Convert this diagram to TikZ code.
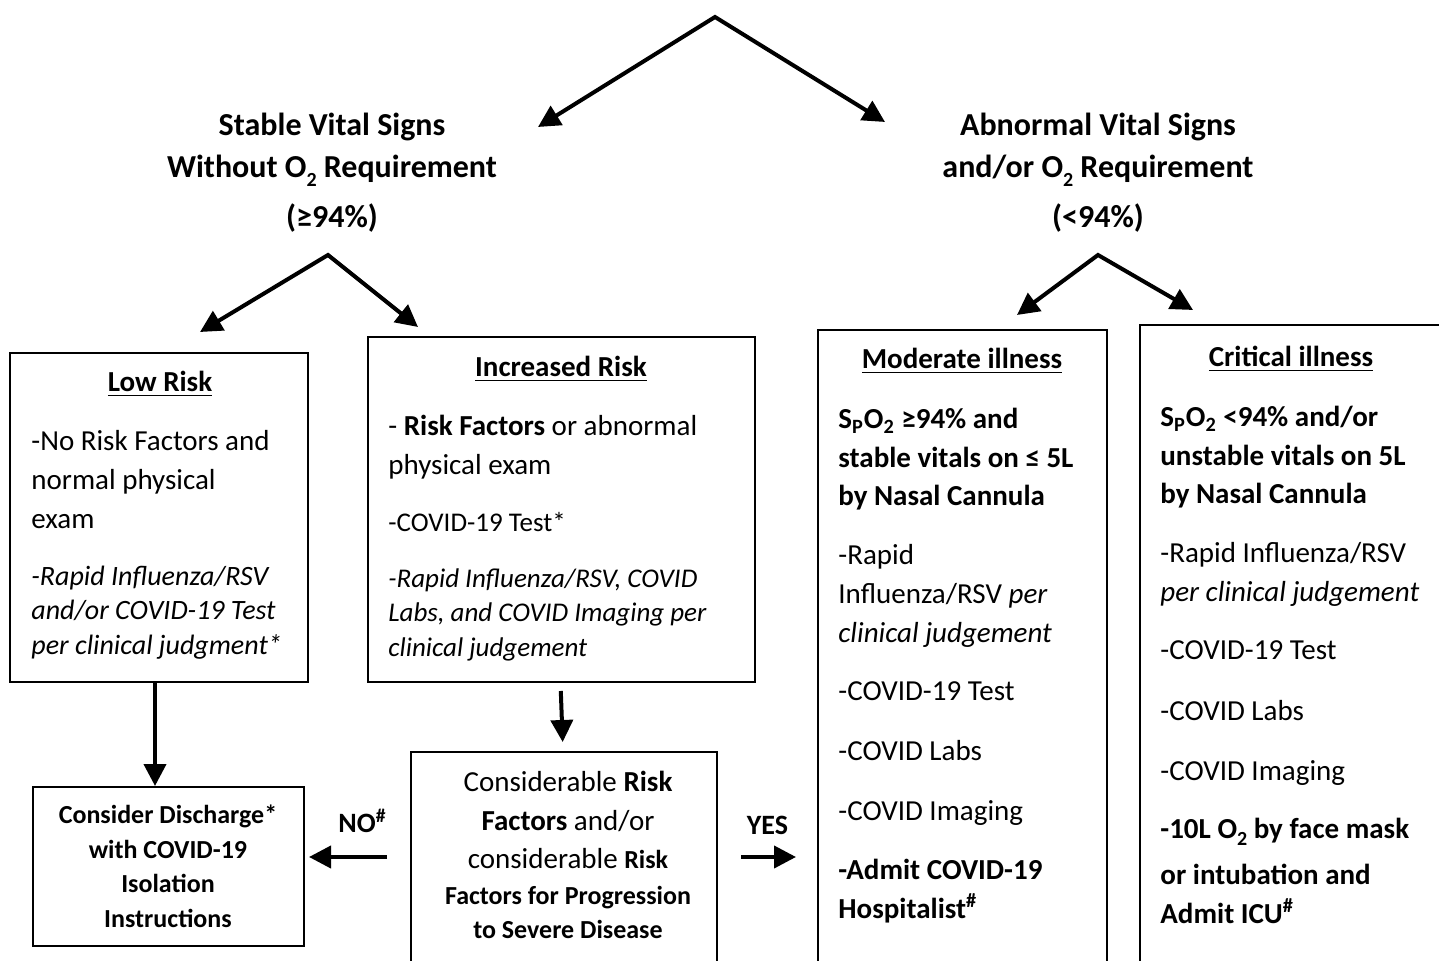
\documentclass[tikz,border=0pt]{standalone}
\usepackage{fontspec}
\setmainfont{Carlito}
\usetikzlibrary{arrows.meta}
\newcommand{\lowtwo}{\raisebox{-0.55ex}{\fontsize{10}{10}\selectfont 2}}

\begin{document}
\begin{tikzpicture}[x=0.5pt, y=-0.5pt,
    every node/.style={inner sep=0pt},
    box/.style={draw, line width=1pt, inner sep=0pt},
    arr/.style={line width=2pt, line join=miter, -{Triangle[length=11pt,width=11pt]}},
    twoarr/.style={line width=2pt, line join=miter, {Triangle[length=11pt,width=11pt]}-{Triangle[length=11pt,width=11pt]}},
    hdr/.style={font=\fontsize{16}{21}\selectfont\bfseries, align=center, anchor=base},
    boxtitle/.style={font=\fontsize{14.5}{18}\selectfont\bfseries, anchor=base},
    bodytxt/.style={font=\fontsize{14.5}{19.5}\selectfont, align=left, anchor=base west},
    boldtxt/.style={font=\fontsize{14.5}{19.25}\selectfont\bfseries, align=left, anchor=base west},
    notetxt/.style={font=\fontsize{13.5}{17.25}\selectfont\itshape, align=left, anchor=base west},
    smallbold/.style={font=\fontsize{13}{17.25}\selectfont\bfseries, align=center, anchor=base}
]
\useasboundingbox (0,0) rectangle (1439,961);
\clip (0,0) rectangle (1439,961);

% headings and forks (multi-line nodes sit on their last line)
\node[hdr] (stable) at (332,228) {Stable Vital Signs\\Without O\lowtwo{} Requirement\\[4pt](≥94\%)};
\node[hdr] (abnormal) at (1098,228) {Abnormal Vital Signs\\and/or O\lowtwo{} Requirement\\[4pt](<94\%)};
\coordinate (top) at (715,17);
\coordinate (stabletip) at (538,127);
\coordinate (abntip) at (885,122);
\draw[twoarr] (stabletip) -- (top) -- (abntip);
\coordinate (stablefork) at (328,255);
\coordinate (lowtip) at (200,332);
\coordinate (inctip) at (418,327);
\draw[twoarr] (lowtip) -- (stablefork) -- (inctip);
\coordinate (abnfork) at (1098,255);
\coordinate (modtip) at (1017,315);
\coordinate (crittip) at (1193,310);
\draw[twoarr] (modtip) -- (abnfork) -- (crittip);

% boxes
\node[box, minimum width=149pt, minimum height=164.5pt] (low) at (159,517.5) {};
\node[box, minimum width=193.5pt, minimum height=172.5pt] (inc) at (561.5,509.5) {};
\node[box, minimum width=144.5pt, minimum height=330pt] (mod) at (962.5,660) {};
\node[box, minimum width=160pt, minimum height=332.5pt] (crit) at (1300,657.5) {};
\node[box, minimum width=135.5pt, minimum height=79.5pt] (disc) at (168.5,866.5) {};
\node[box, minimum width=153pt, minimum height=119pt] (cons) at (564,871) {};

% low risk
\node[boxtitle] (lowt) at (160,392) {\underline{Low Risk}};
\node[bodytxt] (lowa) at (31,529) {-No Risk Factors and\\normal physical\\exam};
\node[notetxt, font=\fontsize{14}{17.25}\selectfont\itshape] (lowb) at (31,654) {-Rapid Influenza/RSV\\and/or COVID-19 Test\\per clinical judgment*};

% increased risk
\node[boxtitle] (inct) at (561,377) {\underline{Increased Risk}};
\node[bodytxt] (inca) at (388,475) {- \textbf{Risk Factors} or abnormal\\physical exam};
\node[bodytxt, font=\fontsize{13.5}{18}\selectfont] (incb) at (388,532) {-COVID-19 Test*};
\node[notetxt] (incc) at (388,656) {-Rapid Influenza/RSV, COVID\\Labs, and COVID Imaging per\\clinical judgement};

% moderate illness
\node[boxtitle] (modt) at (962,369) {\underline{Moderate illness}};
\node[boldtxt] (moda) at (838,506) {S\textsubscript{P}O\textsubscript{2} ≥94\% and\\stable vitals on ≤ 5L\\by Nasal Cannula};
\node[bodytxt] (modb) at (838,642) {-Rapid\\Influenza/RSV \textit{per}\\\textit{clinical judgement}};
\foreach \txt [count=\i] in {-COVID-19 Test, -COVID Labs, -COVID Imaging}
    \node[bodytxt] (modl\i) at (838,640+60*\i) {\txt};
\node[boldtxt] (modc) at (838,918) {-Admit COVID-19\\Hospitalist\textsuperscript{\#}};

% critical illness
\node[boxtitle] (critt) at (1291,367) {\underline{Critical illness}};
\node[boldtxt] (crita) at (1160,504) {S\textsubscript{P}O\textsubscript{2} <94\% and/or\\unstable vitals on 5L\\by Nasal Cannula};
\node[bodytxt] (critb) at (1160,602) {-Rapid Influenza/RSV\\\textit{per clinical judgement}};
\foreach \txt [count=\i] in {-COVID-19 Test, -COVID Labs, -COVID Imaging}
    \node[bodytxt] (critl\i) at (1160,600+60*\i) {\txt};
\node[boldtxt] (critc) at (1160,923) {-10L O\lowtwo{} by face mask\\[4pt]or intubation and\\Admit ICU\textsuperscript{\#}};

% bottom row
\node[smallbold] (disct) at (168,927) {Consider Discharge*\\with COVID-19\\Isolation\\Instructions};
\node[bodytxt, anchor=base, align=center, font=\fontsize{14.5}{17}\selectfont] (const) at (568,938)
    {Considerable \textbf{Risk}\\[2.5pt]\textbf{Factors} and/or\\[2pt]considerable {\fontsize{13}{17}\selectfont\bfseries Risk}\\[1pt]{\fontsize{13}{17}\selectfont\bfseries Factors for Progression}\\{\fontsize{13}{17}\selectfont\bfseries to Severe Disease}};

\coordinate (sidey) at (0,857);
\draw[arr] ([xshift=-2pt]low.south) -- ([xshift=-6.75pt]disc.north);
\draw[arr, shorten <=4pt, shorten >=4.5pt] ([xshift=-0.5pt]inc.south) -- ([xshift=-0.5pt]cons.north);
\draw[arr, shorten <=11.5pt, shorten >=2pt] (cons.west |- sidey) -- (disc.east |- sidey)
    node[midway, above=11pt, xshift=2.5pt, font=\fontsize{14}{16}\selectfont\bfseries] (no) {NO\textsuperscript{\#}};
\draw[arr, shorten <=11.5pt, shorten >=10.5pt] (cons.east |- sidey) -- (mod.west |- sidey)
    node[midway, above=10pt, font=\fontsize{14}{16}\selectfont\bfseries] (yes) {YES};
\end{tikzpicture}
\end{document}
